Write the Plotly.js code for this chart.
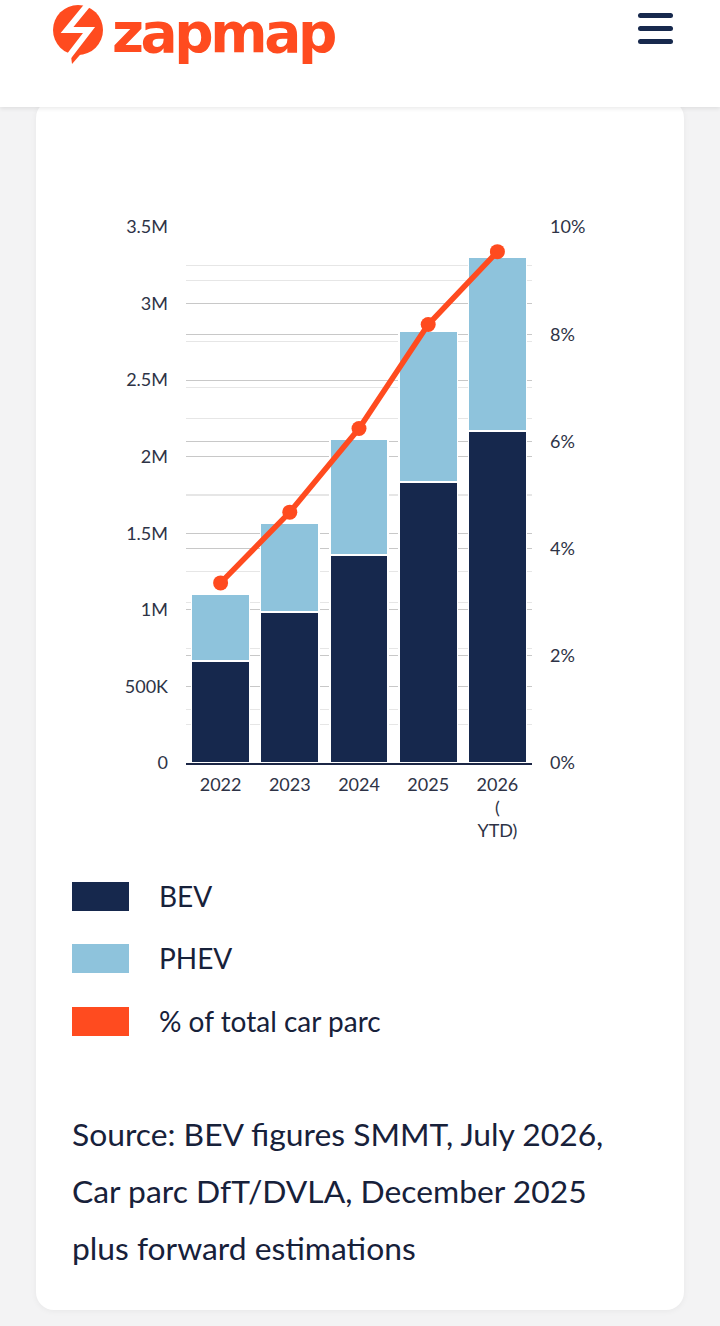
<!DOCTYPE html>
<html>
<head>
<meta charset="utf-8">
<script src="https://cdn.plot.ly/plotly-3.0.1.min.js"></script>
<style>
  html, body { margin:0; padding:0; width:720px; height:1326px; background:#f3f3f4; overflow:hidden; font-family: Lato, "Open Sans", sans-serif; }
  #header { position:absolute; left:0; top:0; width:720px; height:107px; background:#fff; box-shadow:0 2px 4px rgba(0,0,0,0.08); z-index:5; }
  #card { position:absolute; left:36px; top:100px; width:648px; height:1210px; background:#fff; border-radius:18px; box-shadow:0 1px 6px rgba(0,0,0,0.05); }
  #chart { position:absolute; left:36px; top:200px; width:648px; height:660px; }
  .leg { position:absolute; left:72px; height:29px; display:flex; align-items:center; }
  .sw { width:57px; height:29px; }
  .lt { position:absolute; left:87px; font-size:28px; color:#17213a; white-space:nowrap; line-height:29px; }
  #source { position:absolute; left:72px; top:1106px; font-size:31.8px; line-height:57px; color:#17213a; white-space:nowrap; }
  .bar { position:absolute; left:638px; width:35px; height:5px; border-radius:3px; background:#17294d; }
  #logo { position:absolute; left:112px; top:1px; font-family:"DejaVu Sans"; font-weight:700; font-size:55px; line-height:normal; color:#ff4b1f; letter-spacing:-3.4px; }
</style>
</head>
<body>
<div id="header">
  <svg width="110" height="70" style="position:absolute;left:0;top:0" viewBox="0 0 110 70">
    <path d="M78 5 A25 25 0 1 1 78 55 A25 25 0 1 1 78 5 Z" fill="#ff4b1f"/>
    <path d="M70 48 L86 48 L72 64 Z" fill="#ff4b1f"/>
    <polyline points="90,2 67,30 89,30 66,60" fill="none" stroke="#fff" stroke-width="6" stroke-linejoin="miter"/>
  </svg>
  <div id="logo">zapmap</div>
  <div class="bar" style="top:13px"></div>
  <div class="bar" style="top:26px"></div>
  <div class="bar" style="top:39px"></div>
</div>
<div id="card"></div>
<div id="chart"></div>
<div id="legend"></div>
<div id="source">Source: BEV figures SMMT, July 2026,<br>Car parc DfT/DVLA, December 2025<br>plus forward estimations</div>
<script>
// ---- data ----
const years = ["2022", "2023", "2024", "2025", "2026<br>(<br>YTD)"];
const bev = [665000, 985000, 1358000, 1835000, 2168000];
const phev = [440000, 583000, 758000, 987000, 1137000];
const pctParc = [3.36, 4.68, 6.24, 8.18, 9.54];
const leftTickVals = [0, 500000, 1000000, 1500000, 2000000, 2500000, 3000000, 3500000];
const leftTickText = ["0", "500K", "1M", "1.5M", "2M", "2.5M", "3M", "3.5M"];
const seriesNames = ["BEV", "PHEV", "% of total car parc"];
const seriesColors = ["#16284d", "#8ec3dc", "#ff4b1f"];

const tickFont = {family: "Lato, sans-serif", size: 18, color: "#2e3346"};

const traces = [
  {type: "bar", x: years, y: bev, name: seriesNames[0],
   marker: {color: seriesColors[0], line: {color: "#ffffff", width: 1.5}}},
  {type: "bar", x: years, y: phev, name: seriesNames[1],
   marker: {color: seriesColors[1], line: {color: "#ffffff", width: 1.5}}},
  {type: "scatter", mode: "lines+markers", x: years, y: pctParc, yaxis: "y2", name: seriesNames[2],
   line: {color: seriesColors[2], width: 5.5}, marker: {color: seriesColors[2], size: 15}}
];

const layout = {
  width: 648, height: 660,
  margin: {l: 150, r: 152, t: 27, b: 97},
  paper_bgcolor: "rgba(0,0,0,0)", plot_bgcolor: "rgba(0,0,0,0)",
  barmode: "stack", bargap: 0.16,
  showlegend: false,
  xaxis: {type: "category", tickfont: tickFont, showline: true, linecolor: "#1c2746", linewidth: 2,
          ticks: "", showgrid: false, ticklabelstandoff: 4, zeroline: false},
  yaxis: {range: [0, 3500000], tickmode: "array", tickvals: leftTickVals, ticktext: leftTickText,
          tickfont: tickFont, gridcolor: "#c8c8c8", gridwidth: 1.2, zeroline: false, ticks: "",
          ticklabelstandoff: 17,
          minor: {dtick: 250000, tick0: 0, showgrid: true, gridcolor: "#e6e6e6", gridwidth: 1.2}},
  yaxis2: {range: [0, 10], overlaying: "y", side: "right", dtick: 2, tick0: 0, ticksuffix: "%",
           tickfont: tickFont, gridcolor: "#c8c8c8", gridwidth: 1.2, zeroline: false, ticks: "",
           ticklabelstandoff: 17,
           minor: {dtick: 1, tick0: 0, showgrid: true, gridcolor: "#e6e6e6", gridwidth: 1.2}},
  font: {family: "Lato, sans-serif"}
};

Plotly.newPlot("chart", traces, layout, {staticPlot: true, displayModeBar: false});

// HTML legend built from the series names/colours
const legTops = [882, 944, 1007];
const legend = document.getElementById("legend");
seriesNames.forEach((n, i) => {
  const d = document.createElement("div");
  d.className = "leg";
  d.style.top = legTops[i] + "px";
  d.innerHTML = '<div class="sw" style="background:' + seriesColors[i] + '"></div><div class="lt">' + n + '</div>';
  legend.appendChild(d);
});
</script>
</body>
</html>
